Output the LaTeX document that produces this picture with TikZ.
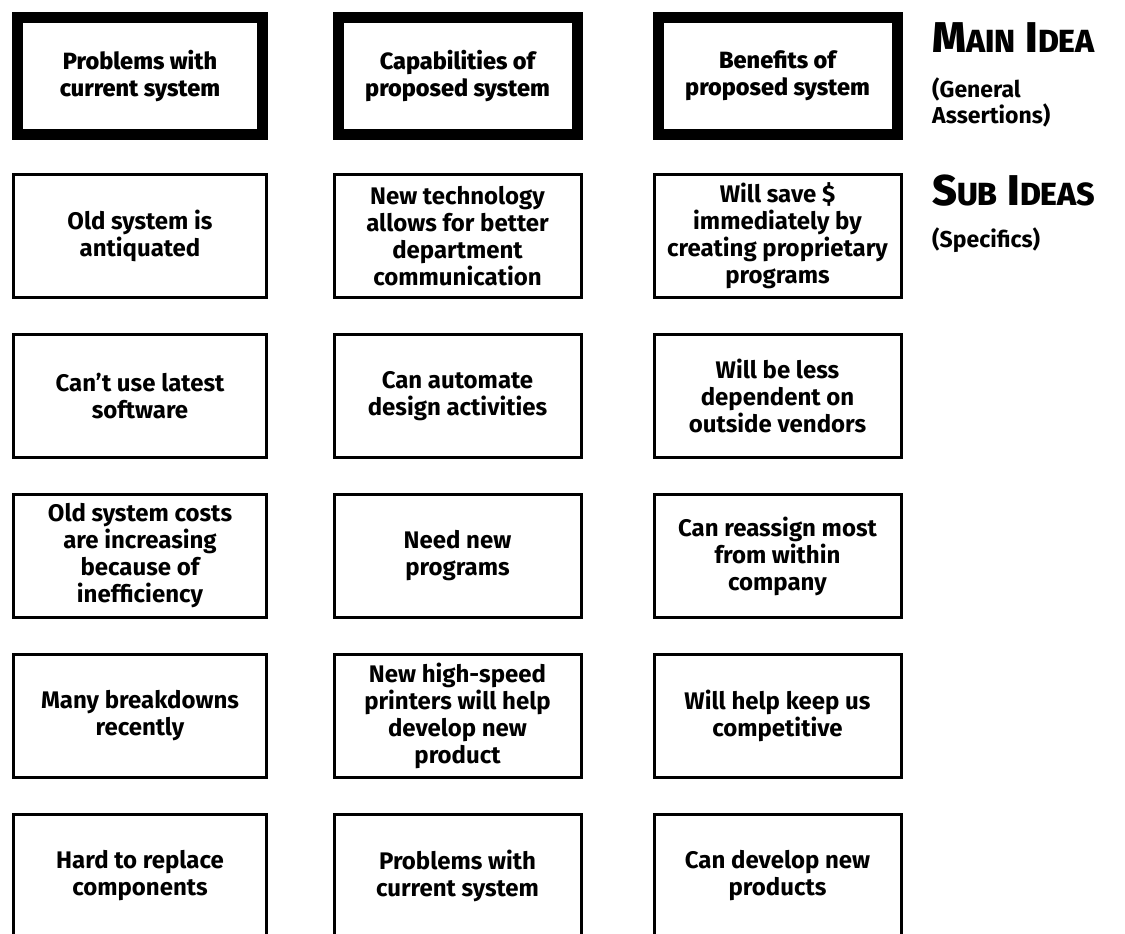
\documentclass[tikz,border=0pt]{standalone}
\usepackage{fontspec}
\setmainfont{Fira Sans}
\IfFontExistsTF{Fira Sans ExtraBold}
  {\newfontfamily\headfont{Fira Sans ExtraBold}}
  {\newcommand{\headfont}{\bfseries}}
\newcommand{\boxfont}{\bfseries}
\usetikzlibrary{positioning}

% fake small caps for the legend headings
\newcommand{\capsmall}[1]{{\fontsize{32}{32}\selectfont #1}}

\begin{document}
\begin{tikzpicture}[x=1pt,y=-1pt,
    mainbox/.style={draw, line width=11pt, minimum width=239pt, minimum height=117pt,
      inner sep=0pt, align=center, font=\headfont\fontsize{23.5}{27}\selectfont},
    subbox/.style={draw, line width=3pt, minimum width=247pt, minimum height=123pt,
      inner sep=0pt, align=center, font=\boxfont\fontsize{24}{27}\selectfont},
    legend/.style={anchor=base west, inner sep=0pt, align=left,
      font=\boxfont\fontsize{23}{26}\selectfont},
    heading/.style={anchor=base west, inner sep=0pt,
      font=\headfont\fontsize{43}{43}\selectfont}]
  \useasboundingbox (0,0) rectangle (1125,934);

  % main ideas
  \node[mainbox, minimum width=245pt] (p1) at (140,76) {Problems with\\current system};
  \node[mainbox] (c1) at (457.5,76) {Capabilities of\\proposed system};
  \node[mainbox] (b1) at (777.5,76) {Benefits of\\proposed system};

  % problems
  \node[subbox, minimum width=253pt] (p2) at (140,236) {Old system is\\antiquated};
  \node[subbox, minimum width=253pt] (p3) at (140,396) {Can’t use latest\\software};
  \node[subbox, minimum width=253pt] (p4) at (140,556) {Old system costs\\are increasing\\because of\\inefficiency};
  \node[subbox, minimum width=253pt] (p5) at (140,716) {Many breakdowns\\recently};
  \node[subbox, minimum width=253pt] (p6) at (140,876) {Hard to replace\\components};

  % capabilities
  \node[subbox] (c2) at (457.5,236) {New technology\\allows for better\\department\\communication};
  \node[subbox] (c3) at (457.5,396) {Can automate\\design activities};
  \node[subbox] (c4) at (457.5,556) {Need new\\programs};
  \node[subbox] (c5) at (457.5,716) {New high-speed\\printers will help\\develop new\\product};
  \node[subbox] (c6) at (457.5,876) {Problems with\\current system};

  % benefits
  \node[subbox] (b2) at (777.5,236) {Will save \$\\immediately by\\creating proprietary\\programs};
  \node[subbox] (b3) at (777.5,396) {Will be less\\dependent on\\outside vendors};
  \node[subbox] (b4) at (777.5,556) {Can reassign most\\from within\\company};
  \node[subbox] (b5) at (777.5,716) {Will help keep us\\competitive};
  \node[subbox] (b6) at (777.5,876) {Can develop new\\products};

  % legend
  \node[heading] (mainidea) at (932,53) {M\capsmall{AIN} I\capsmall{DEA}};
  \node[legend] (general) at (932,123) {(General\\Assertions)};
  \node[heading] (subideas) at (932,205) {S\capsmall{UB} I\capsmall{DEAS}};
  \node[legend] (specifics) at (932,247) {(Specifics)};
\end{tikzpicture}
\end{document}
